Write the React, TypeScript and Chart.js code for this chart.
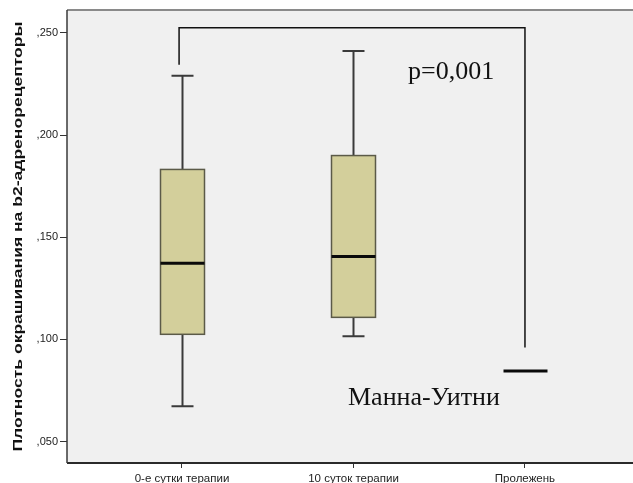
import React, { useEffect, useRef } from 'react';
import { Chart, registerables } from 'chart.js';

Chart.register(...registerables);

// ---- data ----
const categories = ['0-е сутки терапии', '10 суток терапии', 'Пролежень'];
const categoryPositions = [1, 2, 3];
const whiskerLow = [0.0673, 0.1015, 0.0845];
const quartile1 = [0.1025, 0.1108, 0.0845];
const medians = [0.1373, 0.1406, 0.0845];
const quartile3 = [0.1832, 0.19, 0.0845];
const whiskerHigh = [0.2291, 0.2412, 0.0845];
const yTickValues = [0.05, 0.1, 0.15, 0.2, 0.25];
const bracketX = [0.983, 0.983, 3, 3];
const bracketY = [0.2345, 0.2526, 0.2526, 0.0961];
const annotationTexts = ['p=0,001', 'Манна-Уитни'];
const annotationX = [2.318, 1.968];
const annotationY = [0.2275, 0.0678];
const yAxisTitle = 'Плотность окрашивания на b2-адренорецепторы';

const X_MIN = 0.3294;
const X_MAX = 3.63;
const Y_MIN = 0.0395;
const Y_MAX = 0.26125;

const BOX_HALF = 22;
const CAP_HALF = 11;

const boxPlugin = {
  id: 'spssBox',
  beforeDraw(chart: any) {
    const { ctx, chartArea: a } = chart;
    ctx.save();
    ctx.fillStyle = '#f0f0f0';
    ctx.fillRect(a.left, a.top, a.right - a.left, a.bottom - a.top);
    ctx.restore();
  },
  afterDatasetsDraw(chart: any) {
    const { ctx } = chart;
    const xs = chart.scales.x;
    const ys = chart.scales.y;
    ctx.save();
    categoryPositions.forEach((pos, i) => {
      const cx = Math.round(xs.getPixelForValue(pos)) + 0.5;
      const yLow = ys.getPixelForValue(whiskerLow[i]);
      const yQ1 = ys.getPixelForValue(quartile1[i]);
      const yMed = ys.getPixelForValue(medians[i]);
      const yQ3 = ys.getPixelForValue(quartile3[i]);
      const yHigh = ys.getPixelForValue(whiskerHigh[i]);
      if (yQ1 - yQ3 > 1) {
        ctx.strokeStyle = '#3a3a3a';
        ctx.lineWidth = 2;
        ctx.beginPath();
        ctx.moveTo(cx, yQ3);
        ctx.lineTo(cx, yHigh);
        ctx.moveTo(cx - CAP_HALF, yHigh);
        ctx.lineTo(cx + CAP_HALF, yHigh);
        ctx.moveTo(cx, yQ1);
        ctx.lineTo(cx, yLow);
        ctx.moveTo(cx - CAP_HALF, yLow);
        ctx.lineTo(cx + CAP_HALF, yLow);
        ctx.stroke();
        ctx.fillStyle = '#d3cf9b';
        ctx.fillRect(cx - BOX_HALF, yQ3, BOX_HALF * 2, yQ1 - yQ3);
        ctx.strokeStyle = '#5b5a48';
        ctx.lineWidth = 1.5;
        ctx.strokeRect(cx - BOX_HALF, yQ3, BOX_HALF * 2, yQ1 - yQ3);
      }
      ctx.strokeStyle = '#0a0a0a';
      ctx.lineWidth = 3;
      ctx.beginPath();
      ctx.moveTo(cx - BOX_HALF, yMed);
      ctx.lineTo(cx + BOX_HALF, yMed);
      ctx.stroke();
    });
    ctx.restore();
  },
  afterDraw(chart: any) {
    const { ctx, chartArea: a } = chart;
    const xs = chart.scales.x;
    const ys = chart.scales.y;
    ctx.save();
    ctx.strokeStyle = '#8a8a8a';
    ctx.lineWidth = 2;
    ctx.beginPath();
    ctx.moveTo(a.left, a.top);
    ctx.lineTo(a.right, a.top);
    ctx.stroke();
    ctx.strokeStyle = '#2a2a2a';
    ctx.lineWidth = 2;
    ctx.beginPath();
    ctx.moveTo(a.left, a.bottom);
    ctx.lineTo(a.right, a.bottom);
    ctx.stroke();
    ctx.strokeStyle = '#3a3a3a';
    ctx.lineWidth = 1.5;
    ctx.beginPath();
    ctx.moveTo(a.left, a.top);
    ctx.lineTo(a.left, a.bottom);
    ctx.stroke();

    ctx.fillStyle = '#111';
    ctx.font = '26px "Liberation Serif", "Times New Roman", serif';
    ctx.textAlign = 'left';
    ctx.textBaseline = 'alphabetic';
    annotationTexts.forEach((t, i) => {
      ctx.fillText(t, xs.getPixelForValue(annotationX[i]), ys.getPixelForValue(annotationY[i]));
    });

    ctx.font = 'bold 12.5px "Liberation Sans", Arial, sans-serif';
    ctx.fillStyle = '#111';
    const w = ctx.measureText(yAxisTitle).width;
    const target = 430;
    ctx.translate(22, (a.top + a.bottom) / 2);
    ctx.rotate(-Math.PI / 2);
    ctx.scale(target / w, 1);
    ctx.textAlign = 'center';
    ctx.fillText(yAxisTitle, 0, 0);
    ctx.restore();
  },
};

export default function App() {
  const ref = useRef<HTMLCanvasElement | null>(null);
  useEffect(() => {
    document.body.style.margin = '0';
    const canvas = ref.current;
    if (!canvas) return;
    const chart = new Chart(canvas, {
      type: 'scatter',
      data: {
        datasets: [
          {
            label: 'bracket',
            data: bracketX.map((x, i) => ({ x, y: bracketY[i] })),
            showLine: true,
            borderColor: '#111',
            borderWidth: 1.5,
            pointRadius: 0,
            tension: 0,
          },
        ],
      },
      options: {
        animation: false,
        responsive: false,
        devicePixelRatio: 1,
        layout: { padding: { top: 10, left: 0, right: 0, bottom: 0 } },
        plugins: { legend: { display: false }, tooltip: { enabled: false } },
        scales: {
          x: {
            type: 'linear',
            min: X_MIN,
            max: X_MAX,
            afterBuildTicks: (s: any) => {
              s.ticks = categoryPositions.map((v) => ({ value: v }));
            },
            afterFit: (s: any) => {
              s.height = 20;
            },
            grid: { drawOnChartArea: false, drawTicks: true, tickLength: 5, color: '#333' },
            border: { display: false },
            ticks: {
              autoSkip: false,
              maxRotation: 0,
              padding: 4,
              color: '#222',
              font: { family: '"Liberation Sans", Arial, sans-serif', size: 11.5 },
              callback: (v: any) => {
                const idx = categoryPositions.indexOf(Number(v));
                return idx >= 0 ? categories[idx] : '';
              },
            },
          },
          y: {
            type: 'linear',
            min: Y_MIN,
            max: Y_MAX,
            afterBuildTicks: (s: any) => {
              s.ticks = yTickValues.map((v) => ({ value: v }));
            },
            afterFit: (s: any) => {
              s.width = 67;
            },
            grid: { drawOnChartArea: false, drawTicks: true, tickLength: 7, color: '#333' },
            border: { display: false },
            ticks: {
              padding: 2,
              color: '#222',
              font: { family: '"Liberation Sans", Arial, sans-serif', size: 11 },
              callback: (v: any) => ',' + Number(v).toFixed(3).split('.')[1],
            },
          },
        },
      },
      plugins: [boxPlugin],
    });
    return () => chart.destroy();
  }, []);
  return <canvas ref={ref} width={633} height={483} style={{ display: 'block' }} />;
}
